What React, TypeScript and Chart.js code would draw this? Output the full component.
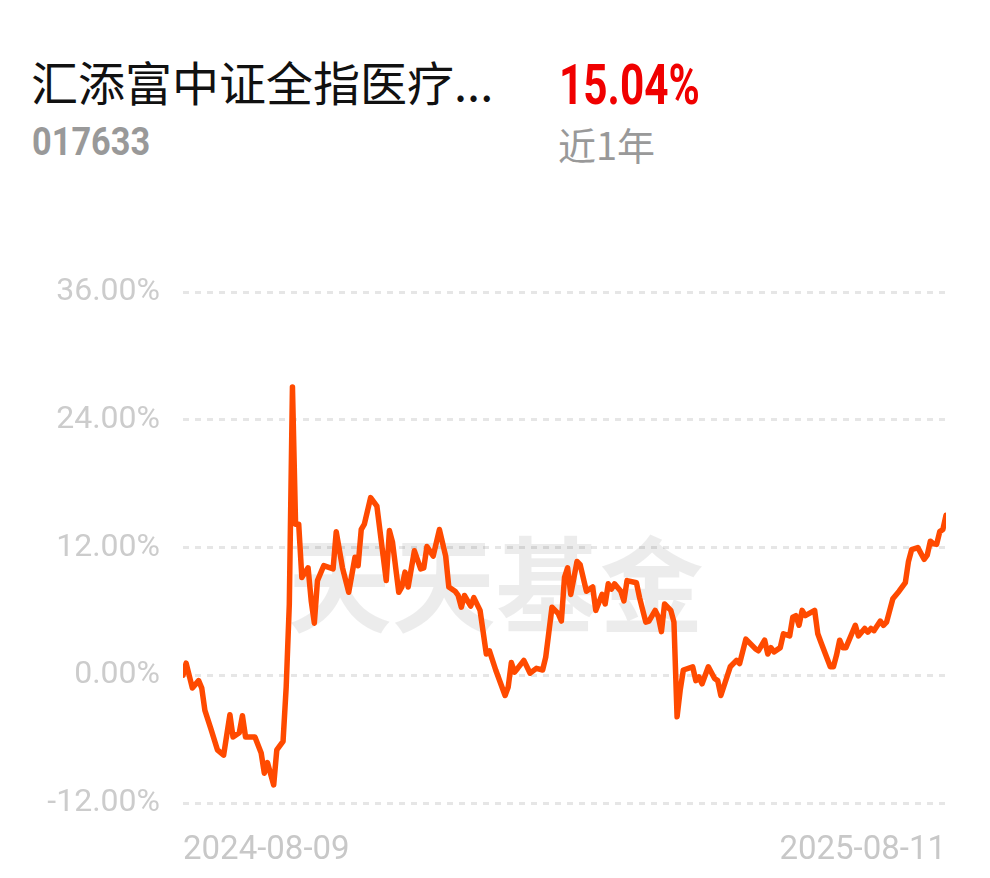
import React, { useEffect, useRef } from "react";
import { Chart, registerables } from "chart.js";

Chart.register(...registerables);

// ---- data ----
const fundName = "汇添富中证全指医疗...";
const fundCode = "017633";
const periodReturn = "15.04%";
const periodLabel = "近1年";
const watermarkText = "天天基金";

const startDate = "2024-08-09";
const endDate = "2025-08-11";
const totalDays = 244;

// trading-day index (0 = 2024-08-09, 244 = 2025-08-11)
const dayIndex = [
  0, 1, 3, 5, 6, 7, 9, 11, 13, 15, 16, 18, 19, 20, 23, 25, 26, 27, 29, 30,
  32, 33, 34, 35, 36, 37, 38, 40, 41, 42, 43, 45, 48, 49, 51, 53, 55, 56, 57, 58,
  60, 62, 65, 66, 67, 69, 70, 71, 72, 74, 76, 77, 78, 80, 82, 84, 85, 87, 88, 89,
  90, 92, 93, 95, 97, 98, 100, 103, 104, 105, 106, 107, 109, 111, 113, 115, 116, 118, 120, 121,
  122, 123, 124, 126, 127, 129, 131, 132, 134, 135, 136, 137, 138, 140, 141, 142, 145, 146, 148, 149,
  151, 152, 153, 154, 156, 157, 158, 159, 160, 163, 164, 165, 166, 168, 170, 171, 172, 175, 177, 178,
  180, 183, 184, 186, 187, 188, 189, 191, 192, 194, 195, 196, 197, 198, 199, 202, 203, 204, 207, 208,
  209, 210, 211, 212, 215, 216, 218, 219, 220, 221, 223, 224, 225, 227, 229, 231, 232, 233, 235, 237,
  238, 239, 240, 241, 242, 243, 244,
];

// cumulative return, %
const returnPct = [
  0, 1.15, -1.2, -0.5, -1.2, -3.3, -5.1, -7.0, -7.5, -3.7, -5.8, -5.4, -3.8, -5.8, -5.8, -7.3, -9.2, -8.2, -10.3, -7.0,
  -6.2, -1.1, 6.7, 27.1, 14.2, 14.2, 9.2, 10.1, 7.0, 4.9, 8.9, 10.3, 10.0, 13.5, 10.1, 7.8, 11.1, 10.3, 13.7, 14.2,
  16.7, 15.9, 8.9, 13.6, 12.5, 7.8, 8.3, 9.7, 8.3, 11.7, 10.0, 10.1, 12.1, 11.2, 13.7, 11.2, 8.3, 7.9, 7.5, 6.4,
  7.5, 6.5, 7.3, 6.1, 2.0, 2.3, 0.5, -1.9, -1.1, 1.2, 0.3, 0.65, 1.4, 0.2, 0.65, 0.5, 1.7, 6.4, 5.8, 5.1,
  9.2, 10.1, 7.6, 10.7, 10.4, 7.9, 8.3, 6.1, 7.6, 6.7, 8.6, 8.1, 8.6, 7.9, 7.0, 8.9, 8.7, 7.3, 5.0, 5.1,
  6.1, 5.5, 4.1, 6.7, 6.1, 5.0, -3.9, -1.4, 0.5, 0.8, -0.5, -0.15, -0.8, 0.8, -0.3, -0.5, -1.9, 0.8, 1.4, 1.1,
  3.4, 2.5, 2.3, 3.3, 2.0, 2.6, 2.2, 2.6, 3.9, 3.7, 5.45, 5.6, 4.7, 6.1, 5.6, 6.1, 3.9, 3.1, 0.8, 0.8,
  1.9, 3.3, 2.6, 2.6, 4.7, 3.7, 4.4, 4.05, 4.4, 4.2, 5.1, 4.7, 5.0, 7.2, 7.9, 8.7, 10.7, 11.8, 12.0, 10.9,
  11.3, 12.6, 12.35, 12.3, 13.5, 13.7, 15.04,
];

const yTicks = [-12, 0, 12, 24, 36];
const xTickDays = [0, totalDays];
const xTickLabels = [startDate, endDate];

const watermarkPlugin = {
  id: "watermark",
  beforeDatasetsDraw(chart: any) {
    const { ctx, chartArea } = chart;
    ctx.save();
    ctx.font = 'bold 104px "Noto Sans CJK SC"';
    ctx.fillStyle = "rgba(0,0,0,0.075)";
    ctx.textAlign = "center";
    ctx.textBaseline = "middle";
    const cx = chartArea.left + (chartArea.right - chartArea.left) * 0.41;
    const cy = chart.scales.y.getPixelForValue(8.4);
    ctx.fillText(watermarkText, cx, cy);
    ctx.restore();
  },
};

export default function App() {
  const canvasRef = useRef<HTMLCanvasElement | null>(null);

  useEffect(() => {
    if (!canvasRef.current) return;
    const points = dayIndex.map((d, i) => ({ x: d, y: returnPct[i] }));
    const chart = new Chart(canvasRef.current, {
      type: "line",
      data: {
        datasets: [
          {
            data: points,
            borderColor: "#ff4a00",
            borderWidth: 5.5,
            pointRadius: 0,
            tension: 0,
            borderJoinStyle: "round",
            borderCapStyle: "round",
            fill: false,
          },
        ],
      },
      options: {
        responsive: false,
        animation: false,
        layout: { padding: { top: 39, right: 44, left: 0, bottom: 0 } },
        plugins: { legend: { display: false }, tooltip: { enabled: false } },
        scales: {
          x: {
            type: "linear",
            min: 0,
            max: totalDays,
            grid: { display: false },
            border: { display: false },
            afterBuildTicks: (axis: any) => {
              axis.ticks = xTickDays.map((v) => ({ value: v }));
            },
            afterFit: (axis: any) => {
              axis.height = 75;
            },
            ticks: {
              align: "inner",
              autoSkip: false,
              maxRotation: 0,
              padding: 20,
              color: "#c8c8c8",
              font: { family: "Roboto", size: 33 },
              callback: (v: any) => {
                const i = xTickDays.indexOf(Number(v));
                return i >= 0 ? xTickLabels[i] : "";
              },
            },
          },
          y: {
            min: -12,
            max: 36,
            afterBuildTicks: (axis: any) => {
              axis.ticks = yTicks.map((v) => ({ value: v }));
            },
            afterFit: (axis: any) => {
              axis.width = 183;
            },
            grid: {
              color: "#e6e6e6",
              lineWidth: 3,
              drawTicks: false,
            },
            border: { display: false, dash: [6, 6] },
            ticks: {
              padding: 23,
              color: "#cccccc",
              font: { family: "Roboto", size: 32 },
              callback: (v: any) => Number(v).toFixed(2) + "%",
            },
          },
        },
      },
      plugins: [watermarkPlugin],
    });
    return () => chart.destroy();
  }, []);

  const abs: React.CSSProperties = { position: "absolute", whiteSpace: "nowrap", lineHeight: 1 };

  return (
    <div style={{ position: "absolute", left: 0, top: 0, width: 990, height: 878, background: "#fff", overflow: "hidden" }}>
      <div style={{ ...abs, left: 31, top: 57, fontSize: 47, color: "#111", fontFamily: '"Noto Sans CJK SC", sans-serif' }}>
        {fundName}
      </div>
      <div
        style={{
          ...abs,
          left: 559,
          top: 58,
          fontSize: 55,
          fontWeight: 700,
          color: "#f00000",
          fontFamily: "Roboto, sans-serif",
          transform: "scaleX(0.77)",
          transformOrigin: "left top",
        }}
      >
        {periodReturn}
      </div>
      <div
        style={{
          ...abs,
          left: 32,
          top: 123,
          fontSize: 39,
          fontWeight: 700,
          color: "#999999",
          fontFamily: "Roboto, sans-serif",
          transform: "scaleX(0.88)",
          transformOrigin: "left top",
        }}
      >
        {fundCode}
      </div>
      <div style={{ ...abs, left: 558, top: 125, fontSize: 38, color: "#999999", fontFamily: '"Noto Sans CJK SC", sans-serif' }}>
        {periodLabel}
      </div>
      <canvas
        ref={canvasRef}
        width={990}
        height={628}
        style={{ position: "absolute", left: 0, top: 250, width: 990, height: 628 }}
      />
    </div>
  );
}
